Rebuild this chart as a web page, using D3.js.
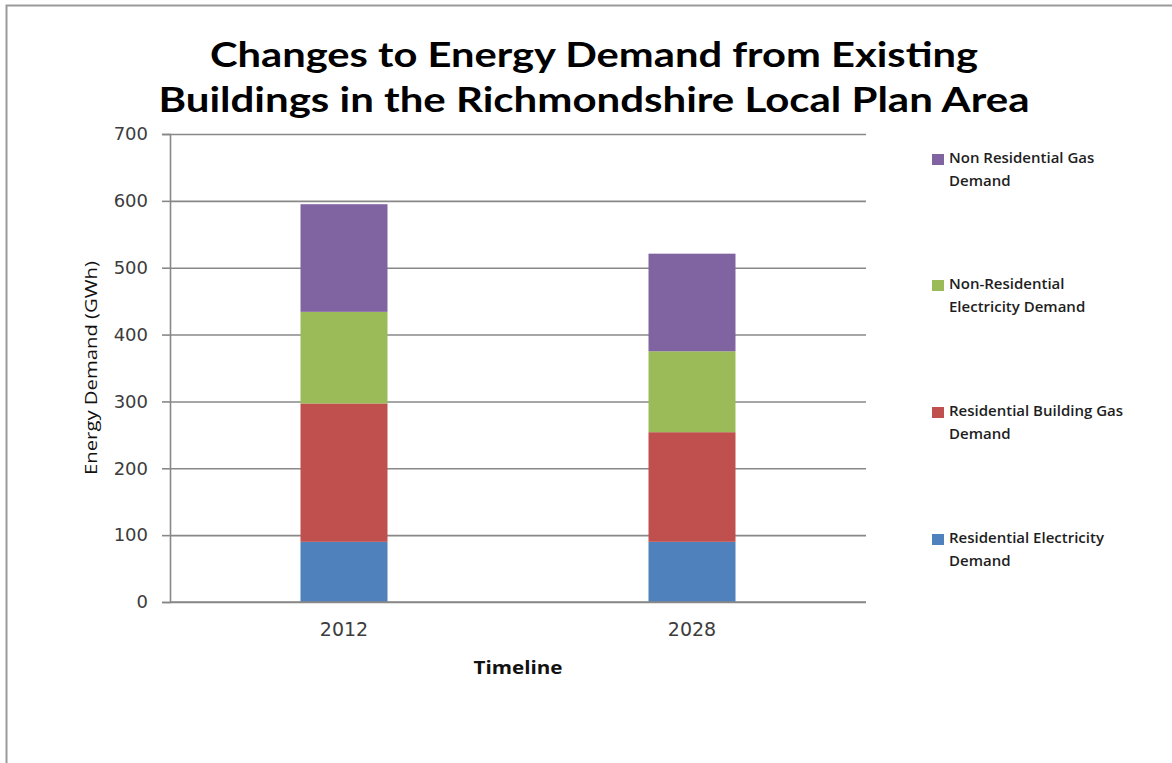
<!DOCTYPE html>
<html>
<head>
<meta charset="utf-8">
<script src="https://cdn.jsdelivr.net/npm/d3@7"></script>
<style>
  html, body { margin: 0; padding: 0; background: #fff; }
  svg { display: block; }
</style>
</head>
<body>
<svg id="chart" width="1172" height="763"></svg>
<script>
// ---- data ----
const categories = ["2012", "2028"];
const seriesNames = [
  "Residential Electricity Demand",
  "Residential Building Gas Demand",
  "Non-Residential Electricity Demand",
  "Non Residential Gas Demand"
];
const residentialElectricity = [90, 90];
const residentialGas = [207, 164];
const nonResidentialElectricity = [137, 121];
const nonResidentialGas = [161, 146];
const yTickValues = [0, 100, 200, 300, 400, 500, 600, 700];
const legendLines = [
  ["Residential Electricity", "Demand"],
  ["Residential Building Gas", "Demand"],
  ["Non-Residential", "Electricity Demand"],
  ["Non Residential Gas", "Demand"]
];
const titleLines = [
  "Changes to Energy Demand from Existing",
  "Buildings in the Richmondshire Local Plan Area"
];
const colors = ["#4F81BD", "#C0504D", "#9BBB59", "#8064A2"];

// ---- build table ----
const seriesArrays = [residentialElectricity, residentialGas, nonResidentialElectricity, nonResidentialGas];
const table = categories.map((c, i) => {
  const row = { category: c };
  seriesNames.forEach((s, j) => row[s] = seriesArrays[j][i]);
  return row;
});
const stacked = d3.stack().keys(seriesNames)(table);

const svg = d3.select("#chart");
const plotLeft = 170, plotRight = 866, plotTop = 134, plotBottom = 602;

// frame border
svg.append("path")
  .attr("d", `M6.5,763 L6.5,5.5 L1172,5.5`)
  .attr("fill", "none").attr("stroke", "#9a9a9a").attr("stroke-width", 2);

const x = d3.scaleBand().domain(categories).range([plotLeft, plotRight])
  .paddingInner(0.75).paddingOuter(0.375);
const y = d3.scaleLinear().domain([0, 700]).range([plotBottom, plotTop]);

// gridlines
svg.append("g")
  .attr("transform", `translate(${plotLeft},0)`)
  .call(d3.axisLeft(y).tickValues(yTickValues).tickSize(-(plotRight - plotLeft)).tickFormat(""))
  .call(g => g.select(".domain").remove())
  .call(g => g.selectAll("line").attr("stroke", "#888").attr("stroke-width", 1.6));

// y axis
svg.append("g")
  .attr("transform", `translate(${plotLeft},0)`)
  .call(d3.axisLeft(y).tickValues(yTickValues).tickSize(8).tickPadding(14))
  .call(g => g.select(".domain").attr("stroke", "#888").attr("stroke-width", 1.6))
  .call(g => g.selectAll("line").attr("stroke", "#888").attr("stroke-width", 1.6))
  .call(g => g.selectAll("text")
    .attr("font-family", "DejaVu Sans").attr("font-size", 18)
    .attr("fill", "#3c3c3c"));

// bars
svg.append("g").selectAll("g")
  .data(stacked).join("g")
  .attr("fill", (d, i) => colors[i])
  .selectAll("rect")
  .data(d => d).join("rect")
  .attr("x", d => x(d.data.category))
  .attr("width", x.bandwidth())
  .attr("y", d => y(d[1]))
  .attr("height", d => y(d[0]) - y(d[1]));

// x axis
svg.append("g")
  .attr("transform", `translate(0,${plotBottom})`)
  .call(d3.axisBottom(x).tickSize(0).tickPadding(21))
  .call(g => g.select(".domain").attr("stroke", "#888").attr("stroke-width", 1.6)
    .attr("d", `M${plotLeft},0H${plotRight}`))
  .call(g => g.selectAll("text")
    .attr("font-family", "DejaVu Sans").attr("font-size", 19)
    .attr("fill", "#3c3c3c"));

// title
const titleY = [67, 112];
const titleWidths = [768, 871];
svg.append("g").selectAll("text")
  .data(titleLines).join("text")
  .attr("x", 594)
  .attr("y", (d, i) => titleY[i])
  .attr("text-anchor", "middle")
  .attr("font-family", "Lato")
  .attr("font-weight", "bold")
  .attr("font-size", 35)
  .attr("fill", "#000")
  .attr("textLength", (d, i) => titleWidths[i])
  .attr("lengthAdjust", "spacingAndGlyphs")
  .text(d => d);

// axis titles
svg.append("text")
  .attr("x", 518).attr("y", 674)
  .attr("text-anchor", "middle")
  .attr("font-family", "Open Sans").attr("font-weight", "bold")
  .attr("font-size", 18).attr("fill", "#111")
  .attr("textLength", 89).attr("lengthAdjust", "spacingAndGlyphs")
  .text("Timeline");

svg.append("text")
  .attr("transform", "translate(97,368) rotate(-90)")
  .attr("text-anchor", "middle")
  .attr("font-family", "Open Sans")
  .attr("font-size", 17).attr("fill", "#111")
  .attr("textLength", 214).attr("lengthAdjust", "spacingAndGlyphs")
  .text("Energy Demand (GWh)");

// legend (top: last series)
const legendBaselines = [543, 416, 289, 163];
const leg = svg.append("g").selectAll("g")
  .data(seriesNames).join("g");
leg.append("rect")
  .attr("x", 932).attr("width", 12).attr("height", 11)
  .attr("y", (d, i) => legendBaselines[i] - 9)
  .attr("fill", (d, i) => colors[i]);
leg.each(function(d, i) {
  const g = d3.select(this);
  legendLines[i].forEach((line, k) => {
    g.append("text")
      .attr("x", 949)
      .attr("y", legendBaselines[i] + k * 23)
      .attr("font-family", "Open Sans")
      .attr("font-weight", 600)
      .attr("font-size", 15)
      .attr("fill", "#1e1e1e")
      .text(line);
  });
});
</script>
</body>
</html>
